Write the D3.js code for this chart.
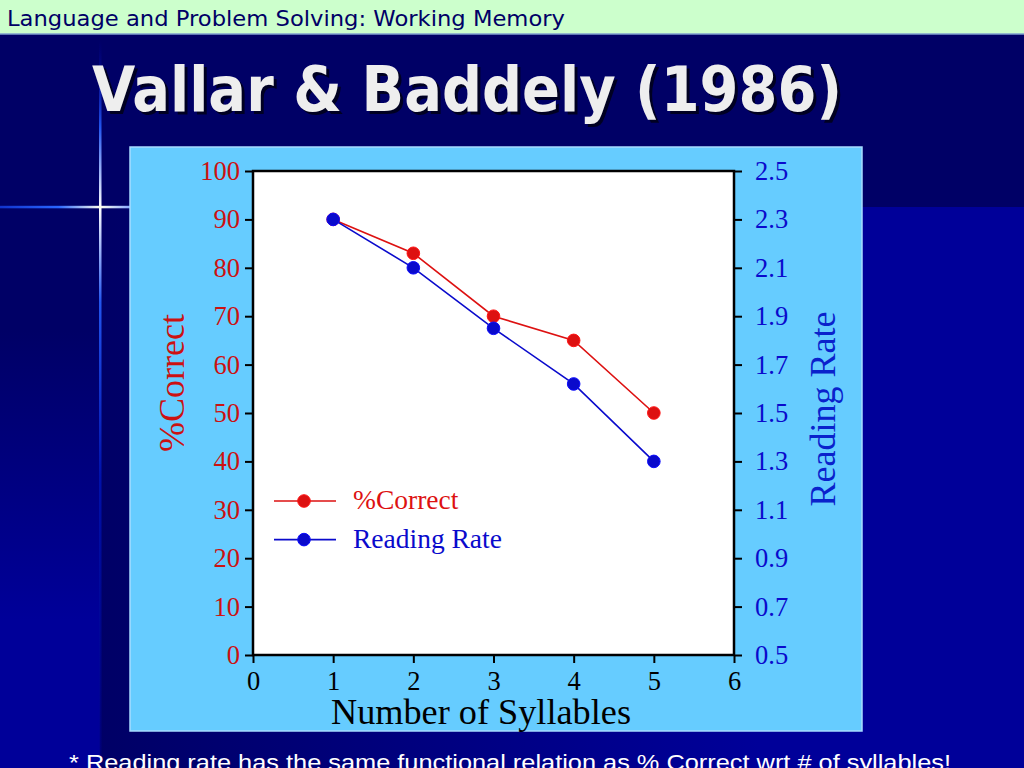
<!DOCTYPE html>
<html>
<head>
<meta charset="utf-8">
<script src="https://cdn.jsdelivr.net/npm/d3@7"></script>
<style>
  html, body { margin: 0; padding: 0; background: #000066; overflow: hidden; }
  svg { display: block; }
</style>
</head>
<body>
<div id="chart"></div>
<script>
// data
const syllables = [1, 2, 3, 4, 5];
const pctCorrect = [90, 83, 70, 65, 50];
const readingRate = [2.3, 2.1, 1.85, 1.62, 1.3];

const xTicks = [0, 1, 2, 3, 4, 5, 6];
const leftTicks = [0, 10, 20, 30, 40, 50, 60, 70, 80, 90, 100];
const rightTicks = [0.5, 0.7, 0.9, 1.1, 1.3, 1.5, 1.7, 1.9, 2.1, 2.3, 2.5];

const seriesNames = ['%Correct', 'Reading Rate'];
const seriesColors = ['#dd1111', '#0a0acc'];

const width = 1024, height = 768;
const plot = {left: 253, right: 734, top: 171, bottom: 655};
const serif = '"Liberation Serif", "Times New Roman", serif';

const svg = d3.select('#chart').append('svg')
  .attr('width', width).attr('height', height);

const defs = svg.append('defs');
const bgGrad = defs.append('linearGradient').attr('id', 'bgGrad')
  .attr('gradientUnits', 'userSpaceOnUse')
  .attr('x1', 100).attr('x2', 760).attr('y1', 0).attr('y2', 0);
bgGrad.append('stop').attr('offset', 0).attr('stop-color', '#000066');
bgGrad.append('stop').attr('offset', 1).attr('stop-color', '#000099');

const leftGrad = defs.append('linearGradient').attr('id', 'leftGrad')
  .attr('gradientUnits', 'userSpaceOnUse')
  .attr('x1', 0).attr('x2', 0).attr('y1', 330).attr('y2', 620);
leftGrad.append('stop').attr('offset', 0).attr('stop-color', '#000066');
leftGrad.append('stop').attr('offset', 1).attr('stop-color', '#000099');

const vGlow = defs.append('linearGradient').attr('id', 'vGlow')
  .attr('gradientUnits', 'userSpaceOnUse')
  .attr('x1', 0).attr('x2', 0).attr('y1', 40).attr('y2', 768);
vGlow.append('stop').attr('offset', 0).attr('stop-color', '#0000aa').attr('stop-opacity', 0);
vGlow.append('stop').attr('offset', 0.12).attr('stop-color', '#2255ee');
vGlow.append('stop').attr('offset', 0.23).attr('stop-color', '#ffffff');
vGlow.append('stop').attr('offset', 0.36).attr('stop-color', '#2255ee');
vGlow.append('stop').attr('offset', 0.6).attr('stop-color', '#0011aa');
vGlow.append('stop').attr('offset', 1).attr('stop-color', '#000088').attr('stop-opacity', 0.5);

const hGlow = defs.append('linearGradient').attr('id', 'hGlow')
  .attr('gradientUnits', 'userSpaceOnUse')
  .attr('x1', 0).attr('x2', 130).attr('y1', 0).attr('y2', 0);
hGlow.append('stop').attr('offset', 0).attr('stop-color', '#1133cc');
hGlow.append('stop').attr('offset', 0.45).attr('stop-color', '#2a66ff');
hGlow.append('stop').attr('offset', 0.77).attr('stop-color', '#ffffee');
hGlow.append('stop').attr('offset', 1).attr('stop-color', '#88aaff');

// background
svg.append('rect').attr('width', width).attr('height', height).attr('fill', '#000066');
svg.append('rect').attr('x', 100).attr('y', 207).attr('width', width - 100).attr('height', height - 207)
  .attr('fill', 'url(#bgGrad)');
svg.append('rect').attr('x', 0).attr('y', 207).attr('width', 100).attr('height', height - 207)
  .attr('fill', 'url(#leftGrad)');
svg.append('rect').attr('x', 99).attr('y', 40).attr('width', 2.5).attr('height', height - 40)
  .attr('fill', 'url(#vGlow)');
svg.append('rect').attr('x', 0).attr('y', 205.8).attr('width', 130).attr('height', 2.5)
  .attr('fill', 'url(#hGlow)');

// header banner
svg.append('rect').attr('width', width).attr('height', 34).attr('fill', '#ccffcc');
svg.append('line').attr('x1', 0).attr('x2', width).attr('y1', 34).attr('y2', 34)
  .attr('stroke', '#7f9fcf').attr('stroke-width', 1.5);
svg.append('text')
  .attr('x', 7).attr('y', 26)
  .attr('font-family', '"DejaVu Sans", Verdana, sans-serif')
  .attr('font-size', 21)
  .attr('textLength', 558).attr('lengthAdjust', 'spacingAndGlyphs')
  .attr('fill', '#000066')
  .text('Language and Problem Solving: Working Memory');

// title, with its drop shadow
const titleText = 'Vallar & Baddely (1986)';
[[3, 3, '#000022'], [0, 0, '#eeeeee']].forEach(([dx, dy, c]) => {
  svg.append('text')
    .attr('x', 92 + dx).attr('y', 111 + dy)
    .attr('font-family', '"DejaVu Sans", Verdana, sans-serif')
    .attr('font-weight', 'bold')
    .attr('font-size', 62)
    .attr('textLength', 750).attr('lengthAdjust', 'spacingAndGlyphs')
    .attr('fill', c)
    .text(titleText);
});

// chart panel
svg.append('rect')
  .attr('x', 130).attr('y', 147).attr('width', 732).attr('height', 584)
  .attr('fill', '#66ccff').attr('stroke', '#a8dcff').attr('stroke-width', 1.5);

svg.append('rect')
  .attr('x', plot.left).attr('y', plot.top)
  .attr('width', plot.right - plot.left).attr('height', plot.bottom - plot.top)
  .attr('fill', '#ffffff');

const x = d3.scaleLinear().domain([0, 6]).range([plot.left, plot.right]);
const yLeft = d3.scaleLinear().domain([0, 100]).range([plot.bottom, plot.top]);
const yRight = d3.scaleLinear().domain([0.5, 2.5]).range([plot.bottom, plot.top]);

const styleAxis = (g, color) => {
  g.select('.domain').remove();
  g.selectAll('.tick line').attr('stroke', '#000').attr('stroke-width', 2);
  g.selectAll('.tick text')
    .attr('font-family', serif).attr('font-size', 26.5).attr('fill', color);
};

svg.append('g')
  .attr('transform', `translate(${plot.left},0)`)
  .call(d3.axisLeft(yLeft).tickValues(leftTicks).tickSize(8).tickPadding(5))
  .call(g => styleAxis(g, '#cc1111'));

svg.append('g')
  .attr('transform', `translate(${plot.right},0)`)
  .call(d3.axisRight(yRight).tickValues(rightTicks).tickSize(8).tickPadding(13)
    .tickFormat(d3.format('.1f')))
  .call(g => styleAxis(g, '#0a0acc'));

svg.append('g')
  .attr('transform', `translate(0,${plot.bottom})`)
  .call(d3.axisBottom(x).tickValues(xTicks).tickSize(8).tickFormat(d3.format('d')))
  .call(g => styleAxis(g, '#000'))
  .call(g => g.selectAll('.tick text').attr('y', 35).attr('dy', 0));

// frame
svg.append('rect')
  .attr('x', plot.left).attr('y', plot.top)
  .attr('width', plot.right - plot.left).attr('height', plot.bottom - plot.top)
  .attr('fill', 'none').attr('stroke', '#000').attr('stroke-width', 2.5);

// series
const series = [
  {name: seriesNames[0], color: seriesColors[0], y: yLeft, values: pctCorrect},
  {name: seriesNames[1], color: seriesColors[1], y: yRight, values: readingRate}
];

const line = s => d3.line()
  .x((d, i) => x(syllables[i]))
  .y(d => s.y(d))(s.values);

series.forEach(s => {
  const g = svg.append('g').attr('class', 'series');
  g.append('path')
    .attr('d', line(s))
    .attr('fill', 'none').attr('stroke', s.color).attr('stroke-width', 1.6);
  g.selectAll('circle')
    .data(s.values)
    .join('circle')
    .attr('cx', (d, i) => x(syllables[i]))
    .attr('cy', d => s.y(d))
    .attr('r', 6.3)
    .attr('fill', s.color)
    .attr('stroke', d3.color(s.color).brighter(0.6))
    .attr('stroke-width', 1);
});

// legend
const legend = svg.append('g').attr('transform', 'translate(274,501)');
series.forEach((s, i) => {
  const row = legend.append('g').attr('transform', `translate(0,${i * 38.6})`);
  row.append('line').attr('x1', 0).attr('x2', 62).attr('y1', 0).attr('y2', 0)
    .attr('stroke', s.color).attr('stroke-width', 1.6);
  row.append('circle').attr('cx', 30).attr('cy', 0).attr('r', 6.3)
    .attr('fill', s.color).attr('stroke', d3.color(s.color).brighter(0.6));
  row.append('text').attr('x', 79).attr('y', 8)
    .attr('font-family', serif).attr('font-size', 27.5)
    .attr('fill', s.color)
    .text(s.name);
});

// axis titles
svg.append('text')
  .attr('transform', 'translate(184,383) rotate(-90)')
  .attr('text-anchor', 'middle')
  .attr('font-family', serif).attr('font-size', 36)
  .attr('fill', '#cc1111')
  .text('%Correct');

svg.append('text')
  .attr('transform', 'translate(835,409) rotate(-90)')
  .attr('text-anchor', 'middle')
  .attr('font-family', serif).attr('font-size', 36)
  .attr('fill', '#0a22cc')
  .text('Reading Rate');

svg.append('text')
  .attr('x', 481).attr('y', 724)
  .attr('text-anchor', 'middle')
  .attr('font-family', serif).attr('font-size', 35)
  .attr('textLength', 300).attr('lengthAdjust', 'spacingAndGlyphs')
  .attr('fill', '#000')
  .text('Number of Syllables');

// footnote (runs off the bottom edge, as on the slide)
svg.append('text')
  .attr('x', 69).attr('y', 770)
  .attr('font-family', '"Liberation Sans", Arial, sans-serif')
  .attr('font-size', 22)
  .attr('textLength', 882).attr('lengthAdjust', 'spacingAndGlyphs')
  .attr('fill', '#ffffff')
  .text('* Reading rate has the same functional relation as % Correct wrt # of syllables!');
</script>
</body>
</html>
